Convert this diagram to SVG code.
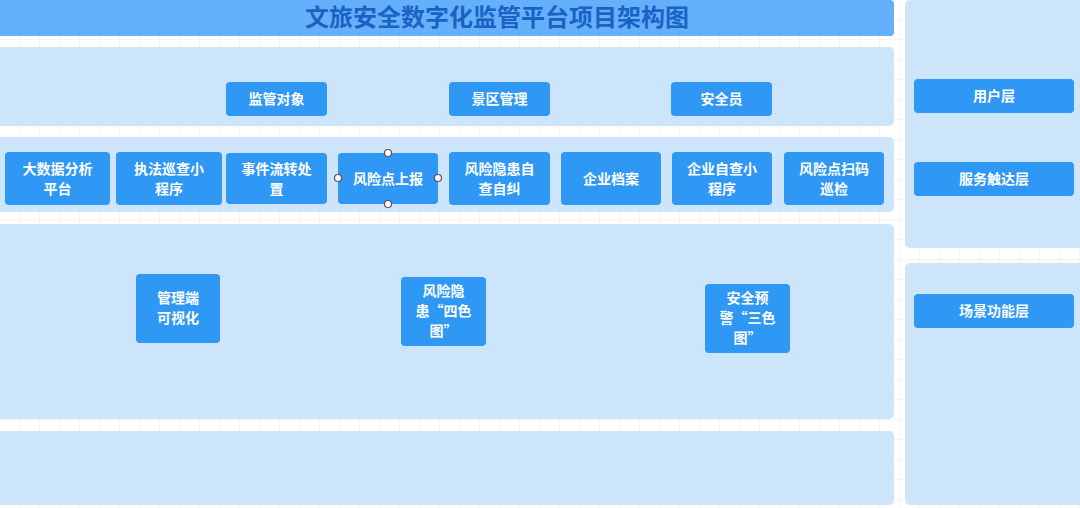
<svg xmlns="http://www.w3.org/2000/svg" width="1080" height="508" viewBox="0 0 1080 508">
<style>
.p{fill:#cde5fb}
.n{fill:#2f98f5}
.t{fill:#fff;font-family:"Noto Sans CJK SC",sans-serif;font-weight:bold;font-size:14px;text-anchor:middle}
.h{fill:#fff;stroke:#6a4a5a;stroke-width:1.2}
</style>
<defs><pattern id="g" width="20" height="20" patternUnits="userSpaceOnUse"><path d="M20 0V20H0" fill="none" stroke="#e6e9ee" stroke-width="1"/></pattern></defs>
<rect width="1080" height="508" fill="#fff"/>
<rect width="1080" height="508" fill="url(#g)"/>
<g id="title"><rect x="-5" y="0" width="899" height="36" rx="4" fill="#64b0fc"/>
<text x="497" y="26" style="font-family:'Noto Sans CJK SC',sans-serif;font-weight:bold;font-size:24px;text-anchor:middle;fill:#1a63c4">文旅安全数字化监管平台项目架构图</text></g>
<g id="panels">
<rect class="p" x="-5" y="47" width="899" height="79" rx="5"/>
<rect class="p" x="-5" y="137" width="899" height="75" rx="5"/>
<rect class="p" x="-5" y="224" width="899" height="195" rx="5"/>
<rect class="p" x="-5" y="431" width="899" height="74" rx="5"/>
<rect class="p" x="905" y="0" width="180" height="248" rx="5"/>
<rect class="p" x="905" y="263" width="180" height="242" rx="5"/>
</g>
<g id="n1"><rect class="n" x="226" y="82" width="101" height="34" rx="4"/><text class="t" x="276.5" y="104">监管对象</text></g>
<g id="n2"><rect class="n" x="449" y="82" width="101" height="34" rx="4"/><text class="t" x="499.5" y="104">景区管理</text></g>
<g id="n3"><rect class="n" x="671" y="82" width="101" height="34" rx="4"/><text class="t" x="721.5" y="104">安全员</text></g>
<g id="n4"><rect class="n" x="5" y="152" width="105" height="53" rx="4"/><text class="t" x="57.5" y="174">大数据分析</text><text class="t" x="57.5" y="194">平台</text></g>
<g id="n5"><rect class="n" x="116" y="152" width="106" height="53" rx="4"/><text class="t" x="169" y="174">执法巡查小</text><text class="t" x="169" y="194">程序</text></g>
<g id="n6"><rect class="n" x="226" y="153" width="101" height="51" rx="4"/><text class="t" x="276.5" y="174">事件流转处</text><text class="t" x="276.5" y="194">置</text></g>
<g id="n7"><rect class="n" x="338" y="153" width="100" height="51" rx="4"/><text class="t" x="388" y="184">风险点上报</text>
<circle class="h" cx="388" cy="153" r="3.5"/><circle class="h" cx="338" cy="178" r="3.5"/><circle class="h" cx="438" cy="178" r="3.5"/><circle class="h" cx="388" cy="204" r="3.5"/></g>
<g id="n8"><rect class="n" x="449" y="152" width="101" height="53" rx="4"/><text class="t" x="499.5" y="174">风险隐患自</text><text class="t" x="499.5" y="194">查自纠</text></g>
<g id="n9"><rect class="n" x="561" y="152" width="100" height="53" rx="4"/><text class="t" x="611" y="184">企业档案</text></g>
<g id="n10"><rect class="n" x="672" y="152" width="100" height="53" rx="4"/><text class="t" x="722" y="174">企业自查小</text><text class="t" x="722" y="194">程序</text></g>
<g id="n11"><rect class="n" x="784" y="152" width="100" height="53" rx="4"/><text class="t" x="834" y="174">风险点扫码</text><text class="t" x="834" y="194">巡检</text></g>
<g id="n12"><rect class="n" x="136" y="274" width="84" height="69" rx="4"/><text class="t" x="178" y="303">管理端</text><text class="t" x="178" y="323">可视化</text></g>
<g id="n13"><rect class="n" x="401" y="277" width="85" height="69" rx="4"/><text class="t" x="443.5" y="296">风险隐</text><text class="t" x="443.5" y="316">患“四色</text><text class="t" x="443.5" y="336">图”</text></g>
<g id="n14"><rect class="n" x="705" y="284" width="85" height="69" rx="4"/><text class="t" x="747.5" y="303">安全预</text><text class="t" x="747.5" y="323">警“三色</text><text class="t" x="747.5" y="343">图”</text></g>
<g id="r1"><rect class="n" x="914" y="79" width="160" height="34" rx="4"/><text class="t" x="994" y="101">用户层</text></g>
<g id="r2"><rect class="n" x="914" y="162" width="160" height="34" rx="4"/><text class="t" x="994" y="184">服务触达层</text></g>
<g id="r3"><rect class="n" x="914" y="294" width="160" height="34" rx="4"/><text class="t" x="994" y="316">场景功能层</text></g>
<g id="connectors"></g>
</svg>
